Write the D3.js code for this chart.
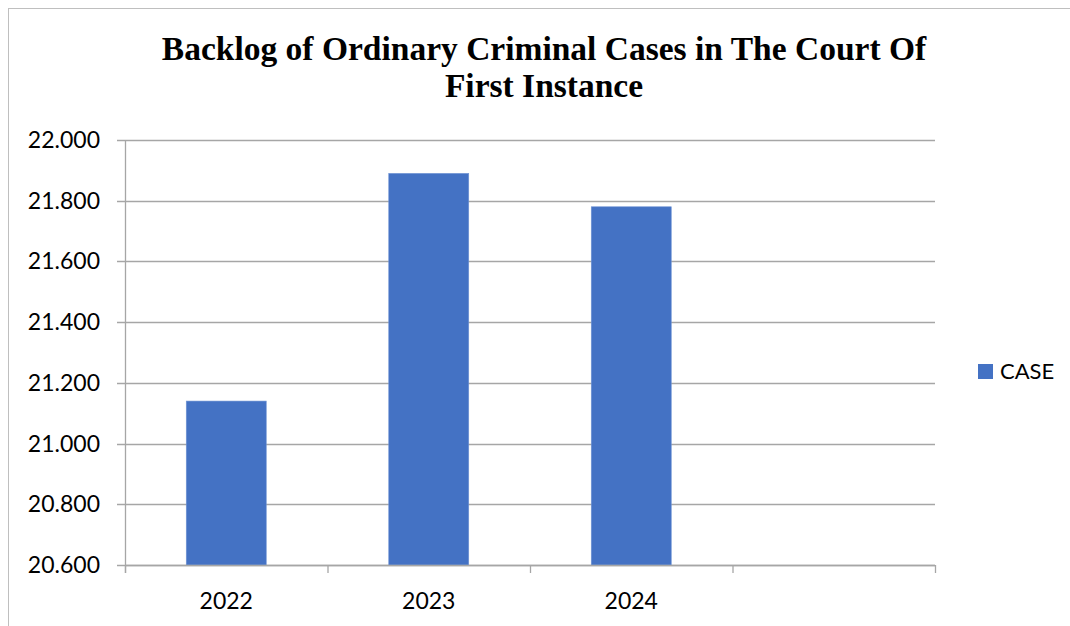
<!DOCTYPE html>
<html>
<head>
<meta charset="utf-8">
<script src="https://cdn.jsdelivr.net/npm/d3@7"></script>
<style>
  body { margin: 0; background: #fff; }
  svg { display: block; }
</style>
</head>
<body>
<svg id="chart" width="1070" height="626"></svg>
<script>
const titleLines = ["Backlog of Ordinary Criminal Cases in The Court Of", "First Instance"];
const categories = ["2022", "2023", "2024", ""];
const caseValues = [21140, 21890, 21780, null];
const yTicks = [20600, 20800, 21000, 21200, 21400, 21600, 21800, 22000];
const seriesName = "CASE";

const svg = d3.select("#chart");
const W = 1070, H = 626;
const margin = { left: 125, right: 135, top: 140, bottom: 61 };
const barColor = "#4472c4";
const gridColor = "#a6a6a6";

// chart border (clipped by page edge)
svg.append("rect")
    .attr("x", 8.5).attr("y", 8.5)
    .attr("width", 1080).attr("height", 650)
    .attr("fill", "#fff").attr("stroke", "#bfbfbf").attr("stroke-width", 1);

const fmt = d3.formatLocale({ decimal: ",", thousands: ".", grouping: [3], currency: ["", ""] }).format(",.0f");

const x = d3.scaleBand()
    .domain(categories.map((c, i) => i))
    .range([margin.left, W - margin.right])
    .paddingInner(0.605)
    .paddingOuter(0.3025);

const y = d3.scaleLinear()
    .domain([20600, 22000])
    .range([H - margin.bottom, margin.top]);

// gridlines + y ticks
svg.append("g").selectAll("line")
    .data(yTicks)
    .enter().append("line")
    .attr("x1", margin.left - 8)
    .attr("x2", W - margin.right)
    .attr("y1", d => Math.round(y(d)) + 0.5)
    .attr("y2", d => Math.round(y(d)) + 0.5)
    .attr("stroke", gridColor)
    .attr("stroke-width", 1.3);

svg.append("g").selectAll("text")
    .data(yTicks)
    .enter().append("text")
    .attr("x", 100)
    .attr("y", d => y(d))
    .attr("dy", "0.35em")
    .attr("text-anchor", "end")
    .attr("font-family", "Lato, sans-serif")
    .attr("font-size", "23px")
    .attr("fill", "#000")
    .text(d => fmt(d));

// bars
svg.append("g").selectAll("rect")
    .data(caseValues.map((v, i) => ({ v, i })).filter(d => d.v != null))
    .enter().append("rect")
    .attr("x", d => x(d.i))
    .attr("width", x.bandwidth())
    .attr("y", d => y(d.v))
    .attr("height", d => y(20600) - y(d.v))
    .attr("fill", barColor)
    .attr("stroke", "#6f93d4")
    .attr("stroke-width", 0.6);

// y axis line
svg.append("line")
    .attr("x1", margin.left + 0.5).attr("x2", margin.left + 0.5)
    .attr("y1", margin.top).attr("y2", H - margin.bottom + 8)
    .attr("stroke", gridColor).attr("stroke-width", 1.3);

// x axis line + ticks
svg.append("line")
    .attr("x1", margin.left).attr("x2", W - margin.right)
    .attr("y1", Math.round(y(20600)) + 0.5).attr("y2", Math.round(y(20600)) + 0.5)
    .attr("stroke", gridColor).attr("stroke-width", 1.3);

const step = (W - margin.right - margin.left) / categories.length;
svg.append("g").selectAll("line")
    .data(d3.range(categories.length + 1))
    .enter().append("line")
    .attr("x1", i => margin.left + i * step + 0.5)
    .attr("x2", i => margin.left + i * step + 0.5)
    .attr("y1", y(20600))
    .attr("y2", y(20600) + 8)
    .attr("stroke", gridColor)
    .attr("stroke-width", 1.3);

svg.append("g").selectAll("text")
    .data(categories)
    .enter().append("text")
    .attr("x", (d, i) => x(i) + x.bandwidth() / 2)
    .attr("y", 609)
    .attr("text-anchor", "middle")
    .attr("font-family", "Lato, sans-serif")
    .attr("font-size", "23px")
    .attr("fill", "#000")
    .text(d => d);

// title
svg.append("g").selectAll("text")
    .data(titleLines)
    .enter().append("text")
    .attr("x", 544)
    .attr("y", (d, i) => 60 + i * 37)
    .attr("text-anchor", "middle")
    .attr("font-family", "'Liberation Serif', serif")
    .attr("font-weight", "bold")
    .attr("font-size", "33.5px")
    .attr("fill", "#000")
    .text(d => d);

// legend
const legend = svg.append("g").attr("transform", "translate(978,364)");
legend.append("rect").attr("width", 15).attr("height", 15).attr("fill", barColor);
legend.append("text")
    .attr("x", 22).attr("y", 7.5).attr("dy", "0.35em")
    .attr("font-family", "Lato, sans-serif")
    .attr("font-size", "22px")
    .attr("fill", "#000")
    .text(seriesName);
</script>
</body>
</html>
